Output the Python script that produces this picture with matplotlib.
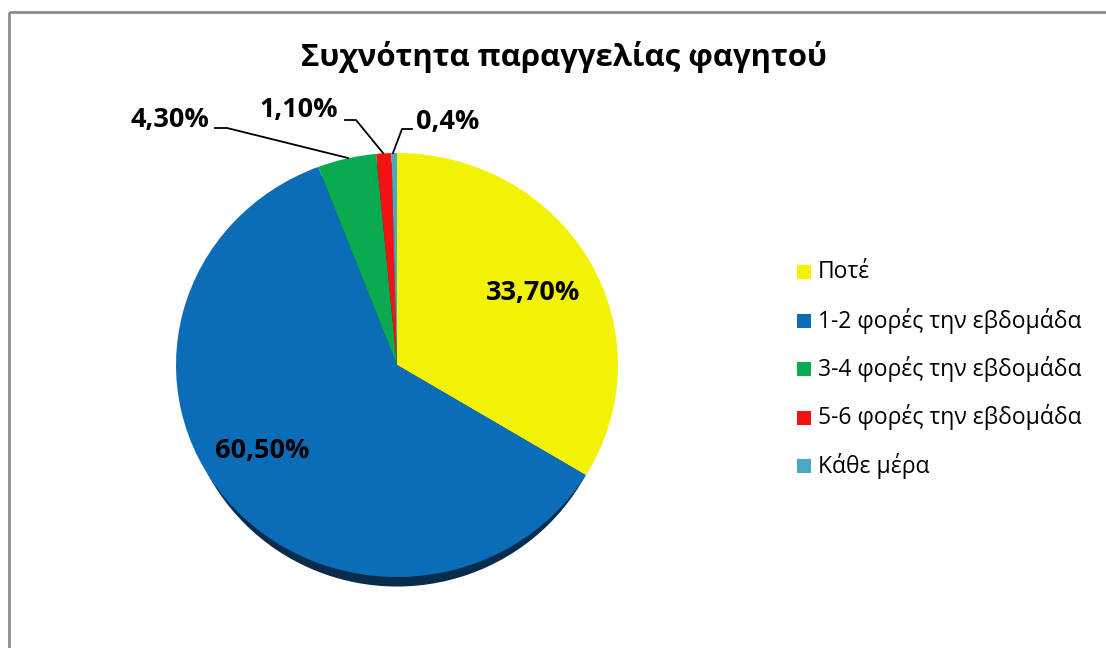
#!/usr/bin/env python3
"""Pie chart: how often people order food."""

import matplotlib

matplotlib.use("Agg")

import matplotlib.pyplot as plt
from matplotlib.patches import Ellipse, Rectangle

TITLE = "Συχνότητα παραγγελίας φαγητού"
categories = [
    "Ποτέ",
    "1-2 φορές την εβδομάδα",
    "3-4 φορές την εβδομάδα",
    "5-6 φορές την εβδομάδα",
    "Κάθε μέρα",
]
shares = [33.70, 60.50, 4.30, 1.10, 0.4]
decimals = [2, 2, 2, 2, 1]

colors = ["#f2f205", "#0b6db7", "#0aab50", "#f51212", "#4aa8c4"]

FONT = ["Open Sans", "DejaVu Sans"]
W, H = 1106, 648


def pct_label(v, d):
    return f"{v:.{d}f}%".replace(".", ",")


fig = plt.figure(figsize=(W / 100, H / 100), dpi=100)
fig.patch.set_facecolor("white")

# pie box in pixels: x 176..618, y 153..577 (plus a little room for the side)
px0, px1, py0, py1 = 176, 618, 153, 577
extra = 0.08
pie_ax = fig.add_axes([px0 / W, (H - py1) / H - extra * (py1 - py0) / 2 / H,
                       (px1 - px0) / W, (py1 - py0) / H * (1 + extra / 2)])

# thin dark rim under the lower half, like a slightly tilted 3-D pie
pie_ax.add_patch(Ellipse((0, -0.045), 2 * 0.97, 2.0, facecolor="#0a2c4c",
                         edgecolor="none", zorder=0))
pie_ax.pie(shares, colors=colors, startangle=90, counterclock=False,
           radius=1.0, center=(0, 0), wedgeprops={"linewidth": 0})
pie_ax.set_aspect("auto")
pie_ax.set_xlim(-1, 1)
pie_ax.set_ylim(-1 - extra, 1)
pie_ax.set_axis_off()

# pixel overlay for frame, title, labels and legend
over = fig.add_axes([0, 0, 1, 1])
over.patch.set_alpha(0)
over.set_xlim(0, W)
over.set_ylim(H, 0)
over.set_axis_off()
over.add_patch(Rectangle((9, 12), W + 20, H + 20, fill=False,
                         edgecolor="#8c8c8c", linewidth=2.0, zorder=0))

over.text(564, 57, TITLE, ha="center", va="center", fontsize=22.4,
          fontweight="bold", family=FONT)

labels = [pct_label(v, d) for v, d in zip(shares, decimals)]
label_pos = [(533, 293), (262, 451), (170, 120), (299, 110), (448, 122)]
for (x, y), text in zip(label_pos, labels):
    over.text(x, y, text, ha="center", va="center", fontsize=19.5,
              fontweight="bold", family=FONT, color="black")

# leader lines for the thin slices
leaders = [
    [(215, 128), (227, 128), (348, 158)],
    [(345, 120), (356, 120), (383, 153)],
    [(412, 129), (402, 129), (393, 153)],
]
for pts in leaders:
    xs, ys = zip(*pts)
    over.plot(xs, ys, color="black", linewidth=1.3)

# legend
for i, (name, c) in enumerate(zip(categories, colors)):
    y = 272 + i * 48.5
    over.add_patch(Rectangle((797, y - 7), 14, 14, facecolor=c, edgecolor="none"))
    over.text(818, y, name, ha="left", va="center", fontsize=16.5,
              family=FONT, color="black")

fig.savefig("out.png", dpi=100)
